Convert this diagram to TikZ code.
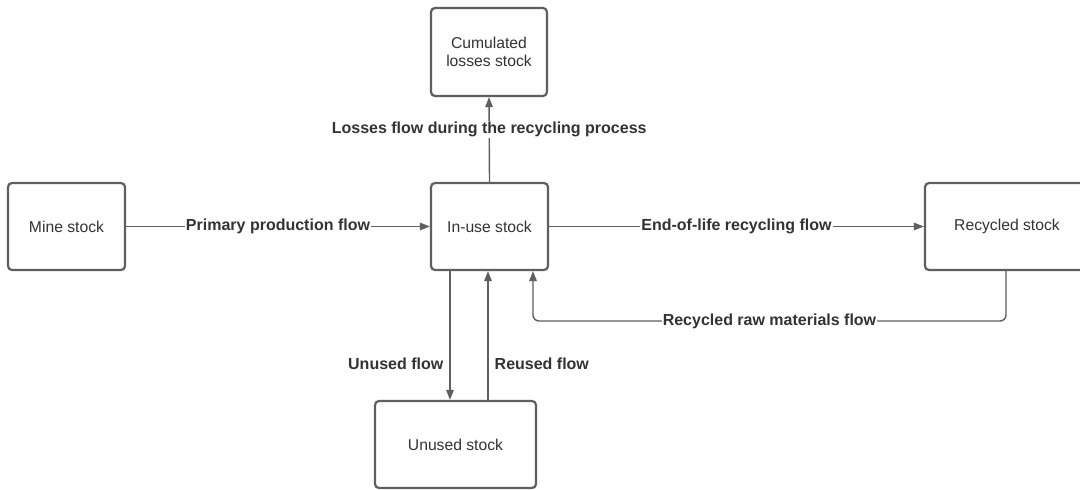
\documentclass[tikz,border=0pt]{standalone}
\usepackage{fontspec}
\setmainfont{Liberation Sans}
\usetikzlibrary{arrows.meta}
\definecolor{linegray}{RGB}{95,95,95}
\definecolor{textgray}{RGB}{51,51,51}
\begin{document}
\begin{tikzpicture}[x=1pt,y=-1pt,
  stock/.style={draw=linegray, line width=2.2pt, rounded corners=4pt, fill=white,
    align=center, inner sep=0pt, text=textgray,
    font=\fontsize{15.7}{18}\selectfont},
  flow/.style={draw=linegray, line width=1.4pt,
    -{Triangle[length=10pt,width=7.5pt]}},
  lbl/.style={fill=white, inner sep=1pt, text=textgray,
    font=\fontsize{16}{19}\bfseries\selectfont}]
\useasboundingbox (0,0) rectangle (1080,490);
\fill[white] (0,0) rectangle (1080,490);
\node[stock, minimum width=117pt, minimum height=87pt] (mine) at (66.5,226.5) {Mine stock};
\node[stock, minimum width=117pt, minimum height=87pt] (inuse) at (489.5,226.5) {In-use stock};
\node[stock, minimum width=116pt, minimum height=88pt] (cum) at (489,52) {Cumulated\\losses stock};
\node[stock, minimum width=164pt, minimum height=87pt] (rec) at (1007,226.5) {Recycled stock};
\node[stock, minimum width=161pt, minimum height=87pt] (unused) at (455.5,444.5) {Unused stock};
\coordinate (rc) at (1006,321);
\coordinate (lc) at (533,321);

\draw[flow] (mine.east) -- node[lbl] {Primary production flow} (inuse.west);
\draw[flow] (inuse.east) -- node[lbl] {End-of-life recycling flow} (rec.west);
\draw[flow] (inuse.north) -- node[lbl, pos=0.62] {Losses flow during the recycling process} (cum.south);
\draw[flow] (inuse.south -| 450,0) -- node[lbl, left=5pt, pos=0.72] {Unused flow} (unused.north -| 450,0);
\draw[flow] (unused.north -| 488,0) -- node[lbl, right=5pt, pos=0.28] {Reused flow} (inuse.south -| 488,0);
\draw[flow, rounded corners=6pt] (rec.south -| rc) -- (rc) -- node[lbl] {Recycled raw materials flow} (lc) -- (inuse.south -| lc);
\end{tikzpicture}
\end{document}
